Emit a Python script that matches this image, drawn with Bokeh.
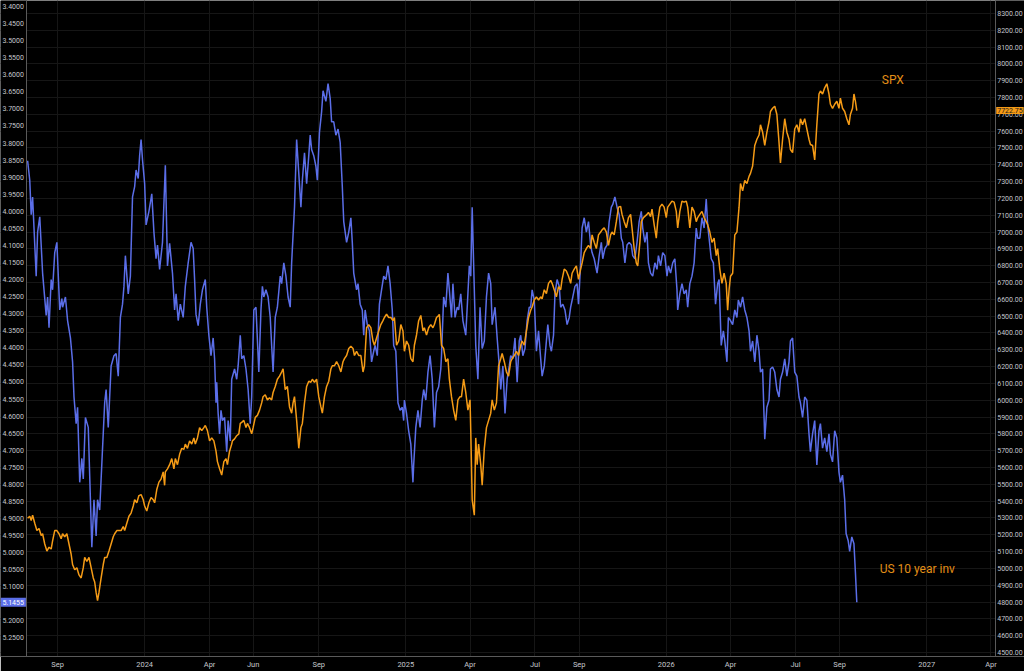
import numpy as np
from bokeh.plotting import figure
from bokeh.models import (Range1d, LinearAxis, SingleIntervalTicker, FixedTicker,
                          NumeralTickFormatter, Grid, Label, BoxAnnotation)
from bokeh.embed import file_html
from bokeh.resources import INLINE

START_DATE = "2023-07-21"
VIEW_START = "2023-06-13"
VIEW_END = "2027-05-18"
LEFT_AXIS_AT = "2023-07-20"
RIGHT_AXIS_AT = "2027-04-07"

# US 10 year yield (inverted axis) - days since START_DATE
yield_days = [
    0, 3, 5, 7, 12, 14, 17, 21, 26, 28,
    30, 33, 35, 38, 41, 45, 48, 49, 53, 56,
    60, 63, 65, 68, 70, 73, 76, 78, 81, 85,
    88, 90, 93, 96, 98, 101, 105, 108, 110, 113,
    117, 121, 124, 127, 130, 133, 135, 137, 141, 144,
    147, 150, 152, 155, 157, 159, 161, 164, 166, 170,
    174, 177, 180, 182, 185, 189, 193, 196, 199, 203,
    206, 208, 211, 214, 218, 221, 225, 229, 232, 234,
    236, 239, 242, 245, 249, 251, 254, 257, 260, 262,
    264, 265, 267, 269, 271, 273, 276, 279, 281, 284,
    286, 290, 293, 295, 298, 300, 303, 306, 309, 312,
    314, 317, 320, 324, 327, 329, 331, 334, 337, 340,
    342, 344, 347, 350, 354, 356, 359, 362, 365, 368,
    370, 374, 377, 380, 383, 385, 388, 391, 394, 396,
    398, 401, 404, 406, 409, 412, 414, 418, 421, 424,
    426, 429, 432, 435, 438, 441, 443, 447, 450, 453,
    455, 457, 461, 463, 466, 469, 471, 473, 476, 479,
    482, 485, 487, 490, 493, 496, 499, 502, 505, 508,
    511, 513, 516, 519, 522, 525, 527, 528, 531, 534,
    537, 540, 541, 544, 547, 550, 553, 555, 558, 561,
    564, 567, 570, 573, 576, 579, 580, 583, 586, 589,
    591, 594, 596, 599, 602, 604, 607, 610, 614, 617,
    619, 621, 623, 625, 628, 631, 634, 637, 640, 643,
    646, 649, 651, 655, 658, 661, 663, 666, 669, 672,
    675, 677, 680, 683, 686, 689, 691, 694, 697, 700,
    703, 705, 707, 710, 713, 716, 719, 721, 724, 727,
    729, 732, 734, 737, 739, 742, 745, 747, 750, 753,
    756, 759, 761, 764, 767, 770, 772, 775, 777, 780,
    783, 786, 789, 791, 794, 798, 801, 804, 806, 809,
    812, 815, 818, 820, 823, 826, 829, 832, 834, 837,
    840, 843, 846, 848, 851, 854, 857, 860, 862, 865,
    868, 870, 873, 876, 879, 882, 884, 887, 890, 893,
    896, 898, 901, 904, 907, 910, 911, 914, 917, 920,
    923, 925, 928, 931, 934, 937, 939, 942, 945, 948,
    951, 953, 955, 958, 961, 964, 967, 969, 972, 975,
    977, 980, 982, 985, 988, 991, 994, 996, 999, 1002,
    1005, 1008, 1011, 1013, 1016, 1019, 1022, 1025, 1027, 1030,
    1033, 1036, 1039, 1041, 1044, 1047, 1050, 1053, 1055, 1058,
    1061, 1064, 1067, 1069, 1072, 1075, 1078, 1081, 1083, 1086,
    1089, 1092, 1095, 1097, 1100, 1103, 1106, 1109, 1111, 1114,
    1117, 1120, 1123, 1125, 1128, 1131, 1134, 1137, 1139, 1142,
    1145, 1147, 1150, 1152, 1155, 1158, 1160, 1162,
]
yield_vals = [
    3.852, 3.909, 4.010, 3.958, 4.190, 4.061, 4.016, 4.181, 4.305, 4.251,
    4.341, 4.200, 4.230, 4.121, 4.091, 4.289, 4.256, 4.281, 4.251, 4.320,
    4.371, 4.441, 4.544, 4.622, 4.574, 4.794, 4.724, 4.784, 4.604, 4.633,
    4.845, 4.984, 4.845, 4.951, 4.845, 4.875, 4.694, 4.561, 4.522, 4.633,
    4.453, 4.423, 4.417, 4.483, 4.311, 4.272, 4.220, 4.130, 4.242, 4.190,
    3.958, 3.928, 3.879, 3.904, 3.837, 3.790, 3.849, 3.919, 4.040, 4.000,
    3.949, 4.061, 4.139, 4.099, 4.170, 4.091, 3.865, 4.160, 4.094, 4.181,
    4.289, 4.242, 4.320, 4.272, 4.311, 4.220, 4.151, 4.091, 4.109, 4.200,
    4.302, 4.335, 4.272, 4.230, 4.200, 4.281, 4.363, 4.423, 4.371, 4.432,
    4.561, 4.501, 4.592, 4.652, 4.583, 4.613, 4.604, 4.704, 4.613, 4.673,
    4.492, 4.462, 4.492, 4.453, 4.363, 4.432, 4.423, 4.462, 4.522, 4.622,
    4.544, 4.289, 4.281, 4.471, 4.289, 4.220, 4.251, 4.230, 4.251, 4.311,
    4.393, 4.471, 4.311, 4.281, 4.190, 4.212, 4.151, 4.190, 4.251, 4.281,
    4.151, 3.988, 3.790, 3.889, 3.988, 3.909, 3.829, 3.919, 3.837, 3.777,
    3.819, 3.837, 3.868, 3.909, 3.768, 3.708, 3.647, 3.678, 3.626, 3.669,
    3.738, 3.738, 3.777, 3.759, 3.798, 3.928, 4.030, 4.091, 4.061, 4.019,
    4.091, 4.181, 4.230, 4.212, 4.272, 4.289, 4.363, 4.289, 4.332, 4.350,
    4.441, 4.410, 4.393, 4.423, 4.272, 4.230, 4.190, 4.200, 4.160, 4.212,
    4.289, 4.393, 4.410, 4.561, 4.583, 4.574, 4.613, 4.553, 4.592, 4.643,
    4.682, 4.794, 4.743, 4.633, 4.583, 4.633, 4.553, 4.522, 4.553, 4.471,
    4.423, 4.492, 4.633, 4.531, 4.514, 4.462, 4.423, 4.251, 4.281, 4.181,
    4.230, 4.311, 4.212, 4.311, 4.281, 4.289, 4.242, 4.320, 4.363, 4.242,
    4.160, 4.190, 3.988, 4.151, 4.393, 4.492, 4.281, 4.402, 4.380, 4.251,
    4.181, 4.212, 4.332, 4.281, 4.371, 4.453, 4.522, 4.453, 4.592, 4.492,
    4.453, 4.423, 4.432, 4.371, 4.501, 4.380, 4.363, 4.423, 4.402, 4.320,
    4.281, 4.281, 4.230, 4.260, 4.410, 4.350, 4.432, 4.483, 4.453, 4.380,
    4.332, 4.393, 4.410, 4.363, 4.242, 4.200, 4.220, 4.281, 4.272, 4.289,
    4.332, 4.311, 4.281, 4.251, 4.220, 4.212, 4.272, 4.151, 4.049, 4.019,
    4.061, 4.030, 4.099, 4.121, 4.139, 4.181, 4.130, 4.091, 4.139, 4.109,
    4.099, 4.030, 3.988, 3.980, 3.958, 3.988, 4.010, 4.079, 4.091, 4.151,
    4.099, 4.091, 4.099, 4.130, 4.139, 4.091, 4.030, 4.000, 4.049, 4.091,
    4.061, 4.151, 4.181, 4.190, 4.151, 4.170, 4.130, 4.160, 4.121, 4.130,
    4.190, 4.160, 4.181, 4.151, 4.139, 4.230, 4.289, 4.242, 4.212, 4.242,
    4.230, 4.281, 4.212, 4.190, 4.151, 4.049, 4.079, 4.079, 4.019, 4.049,
    3.964, 4.040, 4.079, 4.139, 4.151, 4.272, 4.212, 4.200, 4.393, 4.350,
    4.380, 4.441, 4.311, 4.320, 4.332, 4.289, 4.311, 4.260, 4.281, 4.251,
    4.289, 4.311, 4.350, 4.410, 4.380, 4.441, 4.363, 4.410, 4.471, 4.462,
    4.668, 4.574, 4.553, 4.462, 4.456, 4.471, 4.522, 4.544, 4.492, 4.471,
    4.432, 4.483, 4.441, 4.380, 4.371, 4.471, 4.483, 4.544, 4.561, 4.604,
    4.544, 4.553, 4.652, 4.704, 4.652, 4.613, 4.743, 4.643, 4.622, 4.694,
    4.664, 4.704, 4.652, 4.712, 4.734, 4.643, 4.664, 4.764, 4.794, 4.773,
    4.845, 4.944, 4.966, 4.996, 4.954, 4.974, 5.056, 5.1455,
]

# SPX - days since START_DATE
spx_days = [
    0, 3, 5, 7, 10, 13, 16, 19, 21, 24,
    27, 30, 33, 35, 38, 41, 44, 47, 49, 52,
    55, 58, 61, 63, 66, 69, 72, 75, 78, 80,
    83, 86, 89, 92, 94, 96, 98, 100, 103, 106,
    108, 111, 114, 117, 120, 122, 125, 128, 131, 134,
    136, 139, 142, 145, 148, 150, 153, 156, 159, 162,
    164, 167, 170, 173, 176, 178, 181, 184, 187, 190,
    192, 193, 196, 199, 202, 205, 207, 210, 213, 216,
    219, 221, 224, 227, 230, 233, 235, 238, 241, 244,
    247, 249, 252, 255, 258, 261, 264, 266, 269, 272,
    275, 278, 280, 283, 286, 287, 290, 293, 296, 298,
    300, 303, 306, 308, 311, 314, 316, 319, 322, 325,
    328, 330, 333, 336, 339, 342, 344, 347, 350, 353,
    356, 358, 361, 364, 367, 370, 372, 374, 377, 380,
    383, 385, 388, 391, 394, 397, 399, 402, 405, 408,
    411, 413, 416, 419, 422, 425, 427, 430, 433, 436,
    439, 442, 444, 447, 450, 453, 456, 458, 461, 464,
    467, 470, 472, 475, 478, 481, 484, 486, 489, 492,
    495, 498, 500, 503, 506, 509, 512, 514, 517, 520,
    523, 526, 528, 531, 534, 537, 540, 542, 545, 548,
    551, 554, 556, 559, 562, 565, 568, 570, 573, 576,
    577, 580, 583, 586, 589, 591, 594, 597, 600, 603,
    606, 608, 611, 614, 617, 620, 621, 623, 626, 628,
    630, 632, 635, 637, 640, 643, 646, 649, 651, 654,
    657, 660, 663, 665, 668, 671, 674, 677, 679, 682,
    685, 688, 691, 693, 696, 699, 702, 705, 707, 710,
    713, 716, 719, 721, 724, 727, 730, 733, 735, 738,
    741, 744, 747, 749, 752, 755, 758, 761, 763, 766,
    769, 772, 775, 777, 780, 783, 786, 789, 791, 794,
    797, 800, 803, 805, 808, 811, 814, 817, 819, 822,
    825, 828, 831, 833, 836, 839, 842, 845, 847, 850,
    853, 855, 858, 860, 863, 868, 870, 873, 875, 878,
    881, 883, 886, 889, 892, 895, 897, 900, 903, 906,
    909, 911, 914, 917, 920, 923, 925, 928, 931, 934,
    937, 939, 942, 945, 948, 951, 953, 956, 959, 962,
    965, 967, 970, 973, 976, 979, 981, 983, 985, 988,
    991, 994, 997, 999, 1002, 1005, 1008, 1011, 1013, 1016,
    1019, 1022, 1025, 1027, 1030, 1033, 1036, 1039, 1041, 1044,
    1047, 1050, 1053, 1055, 1058, 1061, 1064, 1067, 1069, 1072,
    1075, 1078, 1081, 1083, 1086, 1089, 1092, 1095, 1097, 1100,
    1103, 1106, 1109, 1111, 1114, 1117, 1120, 1123, 1125, 1128,
    1131, 1134, 1137, 1139, 1142, 1145, 1148, 1151, 1153, 1156,
    1158, 1160, 1162,
]
spx_vals = [
    5298, 5310, 5285, 5316, 5268, 5225, 5237, 5195, 5206, 5145,
    5103, 5126, 5115, 5164, 5225, 5225, 5206, 5176, 5206, 5188,
    5206, 5145, 5084, 5023, 4992, 5004, 4961, 4943, 5004, 5065,
    5041, 5065, 5004, 4943, 4919, 4857, 4808, 4857, 4943, 5023,
    5065, 5065, 5103, 5145, 5188, 5206, 5225, 5225, 5225, 5249,
    5225, 5268, 5310, 5329, 5371, 5408, 5390, 5433, 5439, 5408,
    5371, 5341, 5390, 5421, 5408, 5390, 5469, 5513, 5531, 5574,
    5494, 5574, 5592, 5617, 5653, 5592, 5653, 5617, 5678, 5714,
    5708, 5739, 5714, 5758, 5739, 5776, 5739, 5776, 5837, 5819,
    5837, 5850, 5819, 5758, 5776, 5758, 5697, 5635, 5592, 5555,
    5635, 5653, 5617, 5697, 5739, 5758, 5770, 5789, 5800, 5862,
    5868, 5880, 5837, 5862, 5837, 5800, 5837, 5898, 5910, 5941,
    5984, 6021, 6033, 6002, 6015, 6002, 6046, 6082, 6125, 6143,
    6168, 6186, 6063, 6082, 5960, 5923, 5984, 6021, 5880, 5714,
    5837, 5862, 5984, 6082, 6113, 6107, 6125, 6107, 6125, 6021,
    5960, 5923, 6021, 6082, 6113, 6186, 6205, 6205, 6229, 6205,
    6168, 6229, 6247, 6266, 6308, 6321, 6308, 6266, 6291, 6266,
    6266, 6168, 6205, 6431, 6450, 6431, 6352, 6327, 6370, 6412,
    6450, 6473, 6492, 6511, 6492, 6492, 6473, 6492, 6327, 6352,
    6450, 6412, 6291, 6352, 6327, 6247, 6229, 6327, 6388, 6473,
    6504, 6412, 6431, 6388, 6431, 6450, 6431, 6450, 6492, 6504,
    6511, 6327, 6308, 6229, 6247, 6125, 6021, 5941, 5880, 6002,
    6021, 6021, 6125, 6046, 5941, 6002, 5819, 5408, 5316, 5776,
    5617, 5739, 5617, 5494, 5714, 5837, 5880, 5923, 6002, 5941,
    5984, 6205, 6247, 6278, 6229, 6168, 6143, 6229, 6247, 6266,
    6291, 6266, 6327, 6352, 6327, 6412, 6492, 6535, 6554, 6596,
    6615, 6596, 6615, 6603, 6657, 6634, 6695, 6713, 6695, 6657,
    6615, 6676, 6657, 6719, 6780, 6768, 6737, 6695, 6755, 6780,
    6799, 6719, 6780, 6816, 6878, 6902, 6921, 6902, 6983, 6939,
    6902, 6983, 7000, 7013, 7025, 7000, 6921, 6983, 7000, 6983,
    7062, 7148, 7153, 7105, 7062, 7025, 7086, 7105, 7025, 6902,
    6816, 6799, 6939, 7062, 7086, 7105, 7117, 7092, 7136, 7044,
    6964, 7062, 7148, 7166, 7148, 7086, 7148, 7166, 7184, 7178,
    7123, 7025, 7123, 7184, 7178, 7184, 7148, 7025, 7148, 7123,
    7062, 7086, 7105, 7123, 7086, 7062, 7044, 7000, 6939, 6964,
    6860, 6902, 6780, 6695, 6755, 6695, 6535, 6657, 6737, 6755,
    6983, 7000, 7148, 7289, 7245, 7307, 7289, 7331, 7349, 7393,
    7515, 7552, 7577, 7638, 7594, 7515, 7594, 7656, 7717, 7736,
    7748, 7699, 7533, 7411, 7552, 7674, 7594, 7552, 7491, 7472,
    7613, 7638, 7594, 7674, 7638, 7674, 7613, 7552, 7521, 7515,
    7429, 7638, 7821, 7839, 7821, 7858, 7882, 7821, 7760, 7736,
    7760, 7778, 7736, 7797, 7736, 7717, 7674, 7638, 7699, 7736,
    7821, 7778, 7722.75,
]

tick_dates = ["2023-09-01", "2024-01-01", "2024-04-01", "2024-06-01", "2024-09-01",
              "2025-01-01", "2025-04-01", "2025-07-01", "2025-09-01", "2026-01-01",
              "2026-04-01", "2026-07-01", "2026-09-01", "2027-01-01", "2027-04-01"]
tick_labels = ["Sep", "2024", "Apr", "Jun", "Sep", "2025", "Apr", "Jul", "Sep", "2026",
               "Apr", "Jul", "Sep", "2027", "Apr"]
yield_ticks = [round(3.40 + 0.05 * i, 2) for i in range(38)]   # 3.40 ... 5.25
spx_ticks = [4500 + 100 * i for i in range(39)]                 # 4500 ... 8300

yield_last = 5.1455
spx_last = 7722.75
yield_range = (5.3042, 3.3825)   # inverted: bottom, top
spx_range = (4476, 8377)

spx_label = ("2026-10-30", 7903, "SPX")
yld_label = ("2026-10-27", 4998, "US 10 year inv")

BLUE = "#5b6ee8"
ORANGE = "#f59b16"
TXT_ORANGE = "#e38f17"
LABEL_COLOR = "#c4c6cc"
GRID = "#161616"
AXIS = "#5a5a5a"
FONT = "Roboto"


def ms(d):
    return float(np.datetime64(d, "ms").astype("int64"))


base = np.datetime64(START_DATE, "D")
yield_x = base + np.array(yield_days, dtype="timedelta64[D]")
spx_x = base + np.array(spx_days, dtype="timedelta64[D]")

left_at = ms(LEFT_AXIS_AT)
right_at = ms(RIGHT_AXIS_AT)

p = figure(width=1024, height=671, x_axis_type="datetime",
           x_range=Range1d(start=ms(VIEW_START), end=ms(VIEW_END)),
           y_range=Range1d(start=yield_range[0], end=yield_range[1]),
           output_backend="svg", toolbar_location=None,
           background_fill_color="#000000", border_fill_color="#000000",
           outline_line_color=None,
           min_border_left=0, min_border_right=0, min_border_top=0, min_border_bottom=13)

p.extra_y_ranges = {"spx": Range1d(start=spx_range[0], end=spx_range[1])}

# left axis (yield), drawn at a fixed place inside the frame
ly = p.yaxis[0]
ly.ticker = FixedTicker(ticks=yield_ticks)
ly.formatter = NumeralTickFormatter(format="0.0000")
ly.fixed_location = left_at

# right axis (SPX)
ry = LinearAxis(y_range_name="spx",
                ticker=FixedTicker(ticks=spx_ticks),
                formatter=NumeralTickFormatter(format="0.00"),
                fixed_location=right_at)
p.add_layout(ry, "right")

tick_ms = [ms(d) for d in tick_dates]
p.xaxis.ticker = FixedTicker(ticks=tick_ms)
p.xaxis.major_label_overrides = {t: lab for t, lab in zip(tick_ms, tick_labels)}

for ax, size, stand in [(ly, "7px", 3), (ry, "7px", 2), (p.xaxis[0], "7.5px", 3)]:
    ax.axis_line_color = AXIS
    ax.axis_line_width = 1
    ax.major_tick_line_color = None
    ax.minor_tick_line_color = None
    ax.major_tick_out = 0
    ax.major_tick_in = 0
    ax.major_label_text_color = LABEL_COLOR
    ax.major_label_text_font_size = size
    ax.major_label_text_font = FONT
    ax.major_label_standoff = stand

p.xgrid.grid_line_color = GRID
p.ygrid.visible = False
hgrid = Grid(dimension=1, ticker=SingleIntervalTicker(interval=100, num_minor_ticks=0),
             y_range_name="spx", grid_line_color=GRID)
p.add_layout(hgrid, "center")

# keep the axis label strips clean of grid lines
p.add_layout(BoxAnnotation(right=left_at, fill_color="#000000", fill_alpha=1,
                           line_color=None, level="underlay"))
p.add_layout(BoxAnnotation(left=right_at, fill_color="#000000", fill_alpha=1,
                           line_color=None, level="underlay"))

p.line(yield_x, yield_vals, line_color=BLUE, line_width=1.5)
p.line(spx_x, spx_vals, line_color=ORANGE, line_width=1.5, y_range_name="spx")

p.add_layout(Label(x=ms(spx_label[0]), y=spx_label[1], y_range_name="spx", text=spx_label[2],
                   text_color=TXT_ORANGE, text_font_size="12px", text_font=FONT,
                   text_baseline="middle", text_align="left"))
p.add_layout(Label(x=ms(yld_label[0]), y=yld_label[1], y_range_name="spx", text=yld_label[2],
                   text_color=TXT_ORANGE, text_font_size="12px", text_font=FONT,
                   text_baseline="middle", text_align="left"))

# last-value tags on the axes
p.add_layout(Label(x=left_at, y=yield_last, text=f"{yield_last:.4f}",
                   text_align="right", text_baseline="middle", x_offset=-1,
                   text_color="#ffffff", text_font_size="7px", text_font=FONT,
                   background_fill_color=BLUE, padding=2))
p.add_layout(Label(x=right_at, y=spx_last, y_range_name="spx", text=f"{spx_last:.2f}",
                   text_align="left", text_baseline="middle", x_offset=1,
                   text_color="#1a1a1a", text_font_size="7px", text_font=FONT,
                   background_fill_color=ORANGE, padding=1))

open("out.html", "w").write(file_html(p, INLINE))
